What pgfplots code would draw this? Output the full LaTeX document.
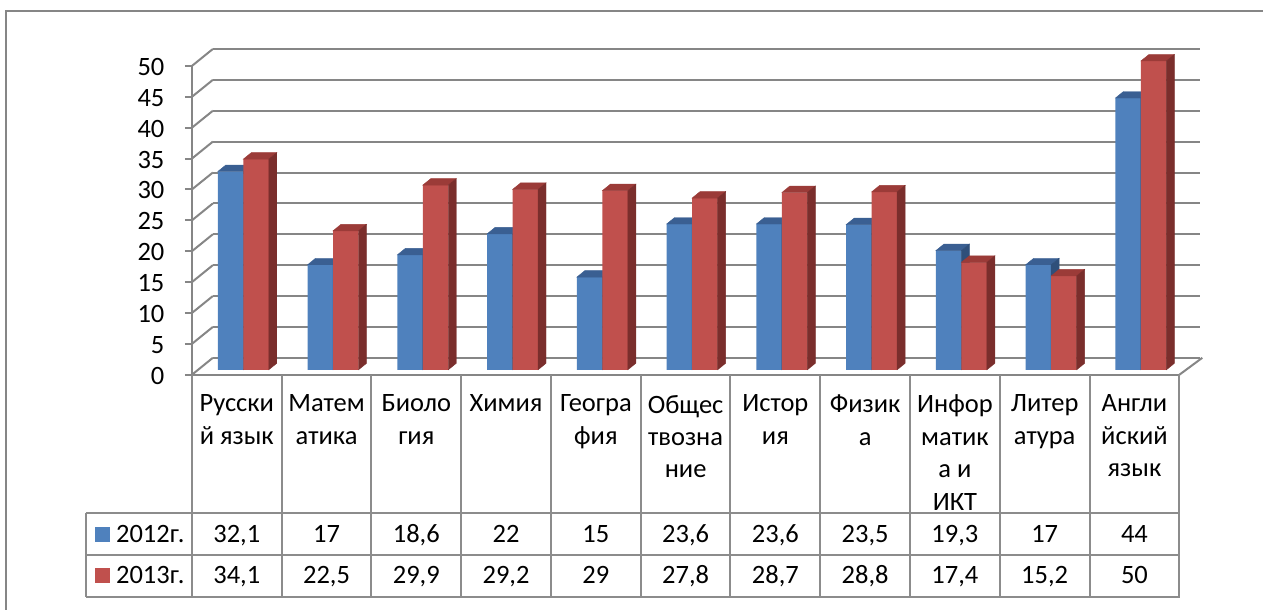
\documentclass[border=0pt]{standalone}
\usepackage{fontspec}
\setmainfont{Carlito}
\usepackage{pgfplots}
\usepackage{pgfplotstable}
\pgfplotsset{compat=1.18}

\definecolor{gridc}{HTML}{868686}
\definecolor{tabc}{HTML}{8C8C8C}
\definecolor{bfront}{HTML}{4F81BD}
\definecolor{btop}{HTML}{3A5F92}
\definecolor{bside}{HTML}{2F4F7A}
\definecolor{rfront}{HTML}{C0504D}
\definecolor{rtop}{HTML}{9B3B38}
\definecolor{rside}{HTML}{7A2E2C}

\newcommand{\tfont}{\fontsize{26.5}{32.5}\selectfont}
\pgfdeclareplotmark{blank}{}

% результаты, 2012 и 2013
\pgfplotstableread{
x a b
0 32.1 34.1
1 17 22.5
2 18.6 29.9
3 22 29.2
4 15 29
5 23.6 27.8
6 23.6 28.7
7 23.5 28.8
8 19.3 17.4
9 17 15.2
10 44 50
}\data

\pgfplotsset{barax/.style={at={(198.5pt,-370pt)}, anchor=south west, scale only axis,
  width=988pt, height=309pt, xmin=-0.5, xmax=10.5, ymin=0, ymax=50,
  hide axis, clip=false}}

\begin{document}
\begin{tikzpicture}
\path (0pt,0pt) rectangle (1264pt,-610pt);
\draw[gridc, line width=1.5pt] (6pt,-610pt) -- (6pt,-11pt) -- (1264pt,-11pt);

% задняя стенка
\begin{axis}[at={(213pt,-358pt)}, anchor=south west, scale only axis,
  width=988pt, height=309pt, xmin=-0.5, xmax=10.5, ymin=0, ymax=50,
  axis line style={draw=none}, xtick=\empty, ytick={0,5,...,50}, yticklabels={},
  major tick length=0pt, ymajorgrids, grid style={gridc, line width=2pt}]
\end{axis}

% передний план: ось и подписи
\begin{axis}[at={(192pt,-375pt)}, anchor=south west, scale only axis,
  width=988pt, height=309pt, xmin=-0.5, xmax=10.5, ymin=0, ymax=50,
  axis x line*=bottom, axis y line*=left,
  axis line style={draw=gridc, line width=2pt},
  x axis line style={-}, y axis line style={-},
  xtick=\empty, ytick={0,5,...,50},
  tick align=outside, major tick length=7pt,
  ytick style={draw=gridc, line width=2pt},
  tick label style={font=\tfont},
  yticklabel style={xshift=-17pt, yshift=-1pt},
  /pgf/number format/assume math mode=true,
  clip=false]
\pgfplotsinvokeforeach{0,5,...,50}{
  \draw[gridc, line width=2pt] (axis cs:-0.5,#1) -- ++(21pt,17pt);
}
\draw[gridc, line width=2pt] (axis cs:10.5,0) -- ++(23pt,17pt);
\end{axis}

% столбики 2012
\begin{axis}[barax]
\addplot[ybar, bar width=25.5pt, bar shift=-12.75pt, fill=bfront, draw=none]
  table[x=x, y=a] {\data};
\addplot[scatter, only marks, mark=blank,
  visualization depends on={\thisrow{a} \as \hv},
  scatter/@pre marker code/.append code={
    \fill[btop] (-25.5pt,0pt) -- (0pt,0pt) -- (8pt,6.5pt) -- (-17.5pt,6.5pt) -- cycle;
    \fill[bside] (0pt,0pt) -- (8pt,6.5pt) -- ++(0pt,{-6.18pt*\hv}) -- ++(-8pt,-6.5pt) -- cycle;
  }] table[x=x, y=a] {\data};
\end{axis}

% столбики 2013
\begin{axis}[barax]
\addplot[ybar, bar width=25.5pt, bar shift=12.75pt, fill=rfront, draw=none]
  table[x=x, y=b] {\data};
\addplot[scatter, only marks, mark=blank,
  visualization depends on={\thisrow{b} \as \hv},
  scatter/@pre marker code/.append code={
    \fill[rtop] (0pt,0pt) -- (25.5pt,0pt) -- (33.5pt,6.5pt) -- (8pt,6.5pt) -- cycle;
    \fill[rside] (25.5pt,0pt) -- (33.5pt,6.5pt) -- ++(0pt,{-6.18pt*\hv}) -- ++(-8pt,-6.5pt) -- cycle;
  }] table[x=x, y=b] {\data};
\end{axis}

% таблица данных
\begin{scope}[x=1pt, y=-1pt]
\foreach \k in {0,...,11} {
  \draw[tabc, line width=2pt] ({192+89.82*\k},375) -- ({192+89.82*\k},597);
}
\draw[tabc, line width=2pt] (86,513) -- (1181,513);
\draw[tabc, line width=2pt] (86,555) -- (1181,555);
\draw[tabc, line width=2pt] (86,597) -- (1181,597);
\draw[tabc, line width=2pt] (86,513) -- (86,597);
\foreach \t [count=\i from 0] in {
  {Русски\\й язык}, {Матем\\атика}, {Биоло\\гия}, {Химия}, {Геогра\\фия},
  {Общес\\твозна\\ние}, {Истор\\ия}, {Физик\\а}, {Инфор\\матик\\а и\\ИКТ},
  {Литер\\атура}, {Англи\\йский\\язык}} {
  \node[anchor=north, align=center, inner sep=0pt, font=\tfont]
    at ({192+89.82*\i+44.91},395) {\t};
}
\foreach \v [count=\i from 0] in {{32,1}, {17}, {18,6}, {22}, {15}, {23,6}, {23,6}, {23,5}, {19,3}, {17}, {44}} {
  \node[anchor=base, inner sep=0pt, font=\tfont] at ({192+89.82*\i+44.91},543) {\v};
}
\foreach \v [count=\i from 0] in {{34,1}, {22,5}, {29,9}, {29,2}, {29}, {27,8}, {28,7}, {28,8}, {17,4}, {15,2}, {50}} {
  \node[anchor=base, inner sep=0pt, font=\tfont] at ({192+89.82*\i+44.91},584) {\v};
}
\fill[bfront] (95,527) rectangle (110,542);
\fill[rfront] (95,568) rectangle (110,583);
\node[anchor=base west, inner sep=0pt, font=\tfont] at (116,543) {2012г.};
\node[anchor=base west, inner sep=0pt, font=\tfont] at (116,584) {2013г.};
\end{scope}
\end{tikzpicture}
\end{document}
